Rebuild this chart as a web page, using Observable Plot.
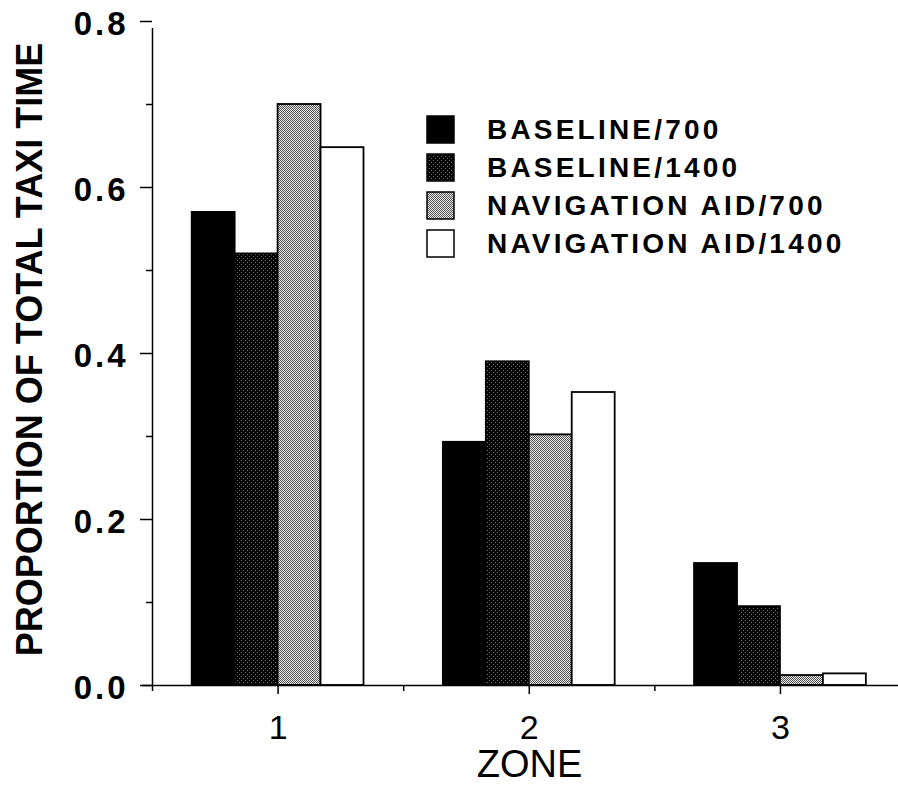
<!DOCTYPE html>
<html><head><meta charset="utf-8">
<script src="https://cdn.jsdelivr.net/npm/d3@7"></script>
<script src="https://cdn.jsdelivr.net/npm/@observablehq/plot@0.6"></script>
<style>
html,body{margin:0;padding:0;background:#fff;}
#chart{position:relative;width:898px;height:785px;}
</style></head><body><div id="chart"></div>
<script>
const zones = [1, 2, 3];
const seriesNames = ["BASELINE/700", "BASELINE/1400", "NAVIGATION AID/700", "NAVIGATION AID/1400"];
const baseline700 = [0.57, 0.293, 0.147];
const baseline1400 = [0.52, 0.39, 0.095];
const navAid700 = [0.70, 0.302, 0.012];
const navAid1400 = [0.648, 0.353, 0.014];
const yTicks = [0, 0.2, 0.4, 0.6, 0.8];
const yMinorTicks = [0.1, 0.3, 0.5, 0.7];
const xTicks = [1, 2, 3];
const xMinorTicks = [0.5, 1.5, 2.5];
const yLabel = "PROPORTION OF TOTAL TAXI TIME";
const xLabel = "ZONE";

const seriesValues = [baseline700, baseline1400, navAid700, navAid1400];
const fills = ["black", "url(#dark)", "url(#gray)", "white"];
const barW = 0.171;
const rows = [];
seriesNames.forEach((s, i) => zones.forEach((z, j) => rows.push({
  zone: z, series: s, value: seriesValues[i][j],
  x1: z + (i - 2) * barW, x2: z + (i - 1) * barW
})));

const font = "'Liberation Sans', Arial, Helvetica, sans-serif";
const blank = () => "";
const svg = Plot.plot({
  width: 898, height: 785,
  marginLeft: 152, marginRight: 0, marginTop: 21, marginBottom: 100,
  style: {fontFamily: font, background: "white", color: "black", overflow: "visible"},
  x: {domain: [0.5, 3.47]},
  y: {domain: [0, 0.8]},
  color: {type: "ordinal", domain: seriesNames, range: fills},
  marks: [
    Plot.rect(rows, {x1: "x1", x2: "x2", y1: 0, y2: "value", fill: "series", stroke: "black", strokeWidth: 1.8}),
    Plot.ruleY([0], {insetLeft: -10, strokeWidth: 1.5}),
    Plot.ruleX([0.5], {y1: 0, y2: 0.8, insetBottom: -7, strokeWidth: 1.5}),
    Plot.axisY({ticks: yTicks, tickSize: 12, tickFormat: blank, label: null, strokeWidth: 1.5}),
    Plot.axisY({ticks: yMinorTicks, tickSize: 6, tickFormat: blank, label: null, strokeWidth: 1.5}),
    Plot.axisY({ticks: yTicks, tickSize: 0, tickPadding: 24, tickFormat: d3.format(".1f"), label: null, fontSize: 33, fontWeight: "bold", dy: 3, ariaDescription: "ytl"}),
    Plot.axisX({ticks: xTicks, tickSize: 9, tickFormat: blank, label: null, strokeWidth: 1.5}),
    Plot.axisX({ticks: xMinorTicks, tickSize: 6, tickFormat: blank, label: null, strokeWidth: 1.5}),
    Plot.axisX({ticks: xTicks, tickSize: 0, tickPadding: 29, tickFormat: d => String(d), label: null, fontSize: 34}),
    Plot.text([yLabel], {text: d => d, frameAnchor: "left", textAnchor: "middle", rotate: -90, dx: -122, dy: -4, fontSize: 36, fontWeight: "bold"}),
    Plot.text([xLabel], {text: d => d, frameAnchor: "bottom", textAnchor: "middle", lineAnchor: "bottom", dx: 4, dy: 91, fontSize: 38})
  ]
});

const s = d3.select(svg);
const defs = s.insert("defs", ":first-child");
const pd = defs.append("pattern").attr("id", "dark").attr("patternUnits", "userSpaceOnUse")
  .attr("width", 4).attr("height", 4);
pd.append("rect").attr("width", 4).attr("height", 4).attr("fill", "black");
[[1, 0], [3, 2]].forEach(([x, y]) => pd.append("rect").attr("x", x).attr("y", y).attr("width", 1).attr("height", 1).attr("fill", "#777"));
const pg = defs.append("pattern").attr("id", "gray").attr("patternUnits", "userSpaceOnUse")
  .attr("width", 2).attr("height", 2);
pg.append("rect").attr("width", 2).attr("height", 2).attr("fill", "#e8e8e8");
[[0, 0], [1, 1]].forEach(([x, y]) => pg.append("rect").attr("x", x).attr("y", y).attr("width", 1).attr("height", 1).attr("fill", "#555"));
s.selectAll("pattern rect").attr("shape-rendering", "crispEdges");

s.selectAll("g[aria-description=ytl] text").style("letter-spacing", "3px");

// legend
const lg = s.append("g").attr("font-family", font).attr("text-anchor", "start");
const baselines = [139, 177, 215, 253];
seriesNames.forEach((name, i) => {
  lg.append("rect").attr("x", 427).attr("y", baselines[i] - 23).attr("width", 27).attr("height", 27)
    .attr("fill", fills[i]).attr("stroke", "black").attr("stroke-width", 1.5);
  lg.append("text").attr("x", 487).attr("y", baselines[i]).attr("font-size", 28)
    .attr("font-weight", "bold").attr("text-anchor", "start").style("letter-spacing", "3.2px").text(name);
});

document.getElementById("chart").appendChild(svg);
</script>
</body></html>
